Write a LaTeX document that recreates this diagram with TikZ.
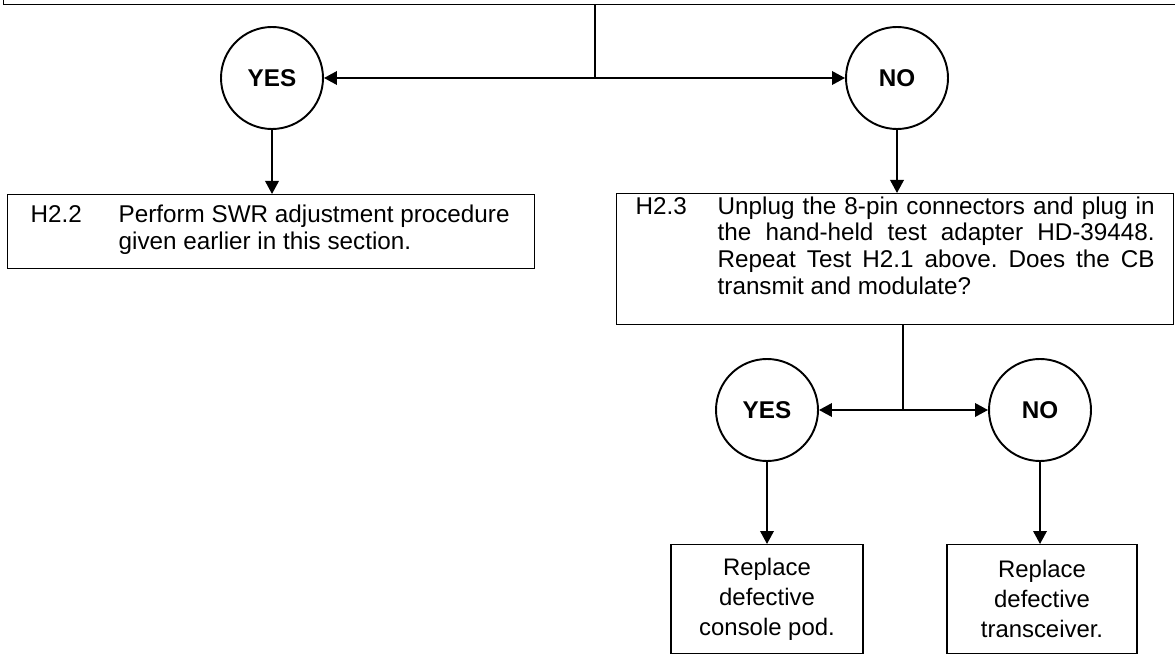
\documentclass[tikz,border=0pt]{standalone}
\usepackage{fontspec}
\setmainfont{Liberation Sans}
\usepackage{tikz}
\usetikzlibrary{arrows.meta, positioning, calc}

\tikzset{
  stepbox/.style={draw, line width=0.8pt, anchor=north west, inner ysep=0pt},
  endbox/.style={draw, line width=0.8pt, anchor=north, align=center, minimum width=3.84cm, minimum height=2.18cm, font=\fontsize{13.6}{17}\selectfont},
  answer/.style={circle, draw, line width=1.1pt, minimum size=2.04cm, inner sep=0pt, font=\fontsize{13.8}{16}\selectfont\bfseries},
  flow/.style={-{Triangle[length=0.26cm,width=0.27cm]}, line width=1.1pt},
}

\begin{document}
\frenchspacing
\begin{tikzpicture}[font=\fontsize{13.8}{15.3}\selectfont]
 \useasboundingbox (0,0) rectangle (23.5,-13.08);
 % box of the previous test, only its bottom is on the page
 \node[draw, line width=0.8pt, anchor=south west, minimum width=23.6cm, minimum height=1cm] (h21) at (0.06,-0.1) {};
 \coordinate (fork1) at (11.9,-1.56);
 \node[answer] (yes1) at (5.44,-1.56) {YES};
 \node[answer] (no1) at (17.94,-1.56) {NO};

 \node[stepbox, inner xsep=0.46cm, inner ysep=0.18cm] (h22) at (0.14,-3.88) {\parbox[c][1.12cm][t]{9.62cm}{\raggedright\hangindent=1.76cm\hangafter=1\strut\makebox[1.76cm][l]{H2.2}Perform SWR adjustment procedure\newline given earlier in this section.}};
 \node[stepbox, inner xsep=0.38cm, inner ysep=0.03cm] (h23) at (12.32,-3.86) {\parbox[c][2.56cm][t]{10.38cm}{\hangindent=1.64cm\hangafter=1\strut\makebox[1.64cm][l]{H2.3}Unplug the 8-pin connectors and plug in\linebreak the hand-held test adapter HD-39448.\linebreak Repeat Test H2.1 above. Does the CB\linebreak transmit and modulate?}};

 \coordinate (fork2) at (18.06,-8.2);
 \node[answer] (yes2) at (15.34,-8.2) {YES};
 \node[answer] (no2) at (20.8,-8.2) {NO};
 \node[endbox] (pod) at (15.34,-10.88) {Replace\\defective\\console pod.};
 \node[endbox, minimum width=3.8cm] (xcvr) at (20.84,-10.88) {Replace\\defective\\transceiver.};

 % connectors
 \draw[line width=1.1pt] (fork1 |- h21.south) -- (fork1);
 \draw[flow] (fork1) -- (yes1);
 \draw[flow] (fork1) -- (no1);
 \draw[flow] (yes1) -- (yes1 |- h22.north);
 \draw[flow] (no1) -- (no1 |- h23.north);
 \draw[line width=1.1pt] (fork2 |- h23.south) -- (fork2);
 \draw[flow] (fork2) -- (yes2);
 \draw[flow] (fork2) -- (no2);
 \draw[flow] (yes2) -- (yes2 |- pod.north);
 \draw[flow] (no2) -- (no2 |- xcvr.north);
\end{tikzpicture}
\end{document}
